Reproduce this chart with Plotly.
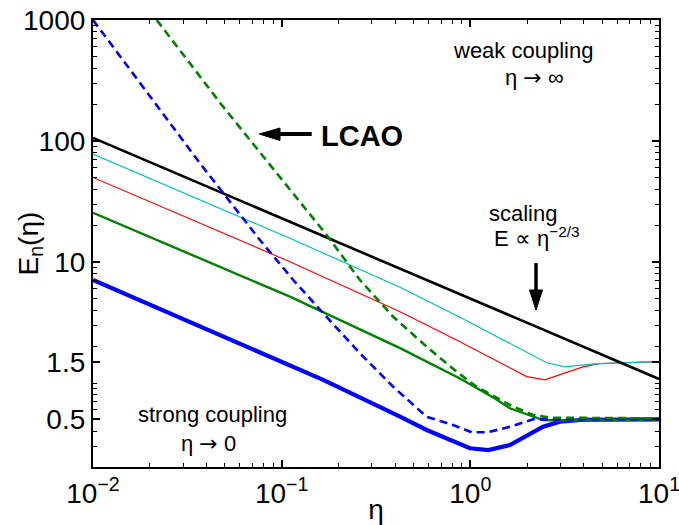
import plotly.graph_objects as go

# ---- data ----
eta_black = [0.01, 0.1106, 1.0, 10]
E_black = [106, 21.5, 4.92, 1.08]

eta_cyan = [0.01, 0.1106, 0.424, 0.881, 2.54, 3.17, 4.5, 10]
E_cyan = [78, 15.7, 6.18, 3.5, 1.47, 1.36, 1.44, 1.50]

eta_red = [0.01, 0.1106, 0.424, 0.881, 1.99, 2.48, 3.95, 4.86, 10]
E_red = [50, 10.05, 3.88, 2.19, 1.13, 1.06, 1.36, 1.45, 1.50]

eta_green = [0.01, 0.1106, 0.424, 0.881, 1.35, 1.62, 2.43, 3.0, 10]
E_green = [25.5, 5.17, 1.94, 1.09, 0.746, 0.618, 0.494, 0.49, 0.5]

eta_blue = [0.01, 0.0434, 0.0767, 0.166, 0.424, 0.587, 0.995, 1.244, 1.62, 2.43, 2.98, 4.0, 10]
E_blue = [7.1, 2.65, 1.79, 1.06, 0.527, 0.409, 0.289, 0.279, 0.307, 0.435, 0.479, 0.497, 0.5]

eta_blue_lcao = [0.01, 0.0369, 0.0767, 0.1152, 0.1661, 0.260, 0.390, 0.587, 0.809, 1.016, 1.24, 1.62, 2.15, 3.0, 10]
E_blue_lcao = [1000, 65.4, 15.2, 7.10, 3.77, 1.76, 0.931, 0.526, 0.450, 0.392, 0.392, 0.435, 0.501, 0.5, 0.5]

eta_green_lcao = [0.02176, 0.0481, 0.1732, 0.260, 0.390, 0.587, 0.846, 1.08, 1.62, 2.15, 2.64, 10]
E_green_lcao = [1000, 198.6, 16.7, 7.10, 3.53, 1.995, 1.24, 0.931, 0.658, 0.544, 0.517, 0.51]

x_tickvals = [0.01, 0.1, 1, 10]
x_ticktext = ["10<sup>−2</sup>", "10<sup>−1</sup>", "10<sup>0</sup>", "10<sup>1</sup>"]
y_tickvals = [0.5, 1.5, 10, 100, 1000]
y_ticktext = ["0.5", "1.5", "10", "100", "1000"]

x_minor = [m * 10.0 ** k for k in range(-2, 1) for m in range(2, 10)]
y_minor = [v for v in (m * 10.0 ** k for k in range(-1, 3) for m in range(1, 10))
           if v >= 0.2 and v not in (0.5, 10, 100)]

FONT = "Liberation Sans, Arial, sans-serif"

fig = go.Figure()

def add(x, y, color, width, dash="solid"):
    fig.add_trace(go.Scatter(x=x, y=y, mode="lines",
                             line=dict(color=color, width=width, dash=dash),
                             showlegend=False, hoverinfo="skip"))

add(eta_blue, E_blue, "#0000FF", 4.2)
add(eta_green, E_green, "#008000", 2.4)
add(eta_red, E_red, "#FF0000", 1.2)
add(eta_cyan, E_cyan, "#00BFBF", 1.2)
add(eta_black, E_black, "#000000", 2.6)
add(eta_blue_lcao, E_blue_lcao, "#0000FF", 2.6, "8px,5px")
add(eta_green_lcao, E_green_lcao, "#008000", 2.6, "8px,5px")

def axis_common(minor_vals):
    return dict(
        showline=True, linecolor="black", linewidth=2.2, mirror="allticks",
        ticks="inside", ticklen=7, tickwidth=1.6, tickcolor="black",
        showgrid=False, zeroline=False, automargin=False,
        ticklabeloverflow="allow",
        tickfont=dict(family=FONT, size=28, color="black"),
        minor=dict(ticks="inside", ticklen=4, tickwidth=1.2, tickcolor="black",
                   tickmode="array", tickvals=minor_vals, showgrid=False),
    )

fig.update_xaxes(type="log", range=[-2, 1], tickmode="array",
                 tickvals=x_tickvals, ticktext=x_ticktext,
                 title=dict(text="η", font=dict(family=FONT, size=28, color="black"), standoff=0),
                 **axis_common(x_minor))
fig.update_yaxes(type="log", range=[-0.6942, 3.0], tickmode="array",
                 tickvals=y_tickvals, ticktext=y_ticktext, **axis_common(y_minor))

# pixel -> paper helpers for annotation placement (plot area 93..659 x 20..467)
def px(x):
    return (x - 93) / 566.0

def py(y):
    return (467 - y) / 447.0

ann_font = dict(family=FONT, size=22, color="black")
ARROW = '<span style="font-family:DejaVu Sans">→</span>'
annotations = [
    dict(text="E<sub>n</sub>(η)", x=px(30), y=0.5, textangle=-90,
         font=dict(family=FONT, size=28, color="black")),
    dict(text="weak coupling", x=px(523), y=py(50), font=ann_font),
    dict(text="η " + ARROW + " ∞", x=px(534), y=py(78), font=ann_font),
    dict(text="scaling", x=px(523), y=py(213), font=ann_font),
    dict(text="E ∝ η<sup>−2/3</sup>", x=px(537), y=py(237), font=ann_font),
    dict(text="<b>LCAO</b>", x=px(362), y=py(136),
         font=dict(family=FONT, size=29, color="black")),
    dict(text="strong coupling", x=px(212), y=py(414), font=ann_font),
    dict(text="η " + ARROW + " 0", x=px(208), y=py(443), font=ann_font),
]
for a in annotations:
    a.update(xref="paper", yref="paper", showarrow=False,
             xanchor="center", yanchor="middle")

shapes = [
    # down arrow (scaling)
    dict(type="line", xref="paper", yref="paper",
         x0=px(536), y0=py(263), x1=px(536), y1=py(292),
         line=dict(color="black", width=3.5)),
    dict(type="path", xref="paper", yref="paper",
         path=f"M {px(529.5)},{py(290)} L {px(542.5)},{py(290)} L {px(536)},{py(310)} Z",
         fillcolor="black", line=dict(color="black", width=1)),
    # left arrow (LCAO)
    dict(type="line", xref="paper", yref="paper",
         x0=px(311.7), y0=py(134), x1=px(278), y1=py(134),
         line=dict(color="black", width=4)),
    dict(type="path", xref="paper", yref="paper",
         path=f"M {px(280)},{py(128)} L {px(280)},{py(140.5)} L {px(259.3)},{py(134)} Z",
         fillcolor="black", line=dict(color="black", width=1)),
]

fig.update_layout(
    width=679, height=525,
    margin=dict(l=93, r=20, t=20, b=58),
    paper_bgcolor="white", plot_bgcolor="white",
    font=dict(family=FONT, color="black"),
    annotations=annotations,
    shapes=shapes,
)

fig.write_html("out.html")
